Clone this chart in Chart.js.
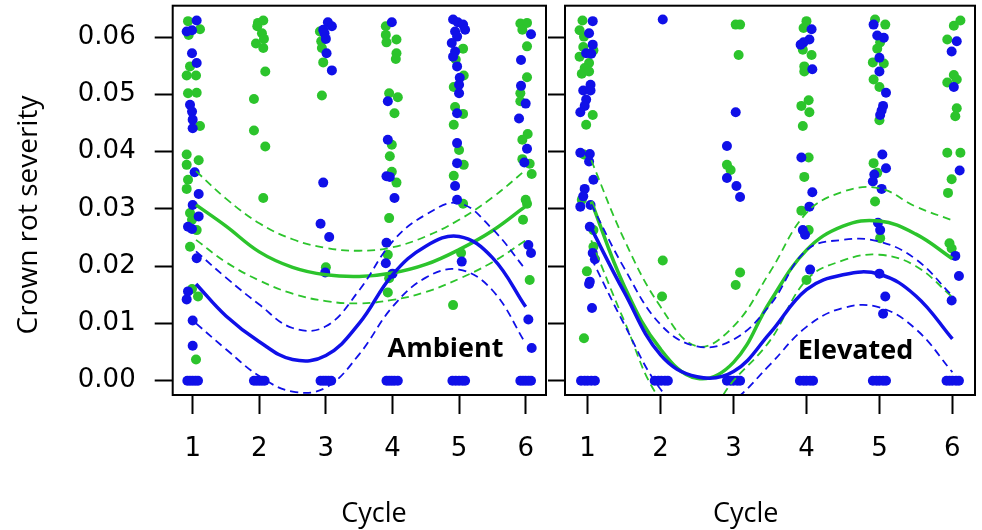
<!DOCTYPE html>
<html>
<head>
<meta charset="utf-8">
<script src="https://cdn.jsdelivr.net/npm/chart.js"></script>
<style>
  body { margin: 0; background: #fff; }
  canvas { position: absolute; top: 0; }
</style>
</head>
<body>
<canvas id="ambient" width="556" height="530" style="left:0px"></canvas>
<canvas id="elevated" width="434" height="530" style="left:548px"></canvas>
<script>
const xTicks = [1, 2, 3, 4, 5, 6];
const yTicks = [0, 0.01, 0.02, 0.03, 0.04, 0.05, 0.06];
const yTickLabels = ['0.00', '0.01', '0.02', '0.03', '0.04', '0.05', '0.06'];

const ambGreen = [
  [0.93,0.0628],[1.11,0.0614],[0.94,0.0604],[0.96,0.0549],[0.91,0.0533],[1.05,0.0533],[0.93,0.0502],
  [1.06,0.0503],[1.11,0.0445],[0.91,0.0395],[1.09,0.0385],[0.91,0.0377],[0.93,0.0351],[0.91,0.0335],
  [0.96,0.0293],[0.99,0.0281],[1.06,0.0263],[0.96,0.0234],[0.99,0.016],[1.08,0.0147],[1.05,0.0037],
  [1.98,0.0625],[2.06,0.0629],[1.97,0.0619],[2.04,0.0607],[2.07,0.0597],[1.95,0.0589],[2.06,0.0581],
  [2.09,0.054],[1.92,0.0492],[1.92,0.0437],[2.09,0.0409],[2.06,0.0319],
  [2.91,0.061],[2.93,0.0593],[2.94,0.0581],[2.96,0.0556],[2.94,0.0498],[3.0,0.0198],
  [3.9,0.0619],[3.9,0.0604],[3.91,0.0591],[4.06,0.0596],[4.06,0.0572],[4.05,0.0562],[3.95,0.0502],
  [4.08,0.0495],[4.03,0.0467],[3.99,0.0412],[3.96,0.0392],[3.99,0.0365],[4.06,0.0346],[3.95,0.0284],
  [3.93,0.022],[3.95,0.0179],[3.93,0.0154],
  [5.06,0.058],[4.95,0.0561],[5.07,0.0533],[4.92,0.0513],[4.94,0.0478],[5.06,0.0466],[4.92,0.0447],
  [5.0,0.0403],[5.07,0.0377],[4.92,0.0358],[5.06,0.0309],[5.03,0.0223],[4.91,0.0132],
  [5.92,0.0624],[6.02,0.0625],[5.95,0.0613],[6.02,0.0584],[6.02,0.053],[5.92,0.0502],[5.92,0.0488],
  [6.03,0.0431],[5.95,0.0421],[5.95,0.0387],[6.06,0.0379],[6.09,0.0361],[6.0,0.0316],[6.02,0.0309],
  [5.96,0.0281],[6.06,0.0176]
];
const ambBlue = [
  [1.06,0.0629],[0.99,0.0612],[0.91,0.061],[0.99,0.0572],[1.06,0.0555],[0.96,0.0482],[0.99,0.047],
  [1.0,0.0456],[1.0,0.0441],[1.03,0.0364],[1.09,0.0326],[1.0,0.0307],[1.09,0.0287],[0.93,0.0269],
  [0.99,0.0265],[1.06,0.0214],[0.93,0.0156],[0.91,0.0142],[1.0,0.0105],[1.0,0.0061],
  [3.03,0.0626],[3.09,0.0619],[2.96,0.0613],[2.98,0.0607],[3.0,0.0597],[3.01,0.0572],[3.09,0.0542],
  [2.96,0.0346],[2.92,0.0274],[3.05,0.0251],[2.99,0.0189],
  [3.99,0.0626],[3.93,0.0488],[3.93,0.0421],[3.91,0.0357],[3.96,0.0356],[4.03,0.0319],[3.91,0.0241],
  [3.9,0.0205],[4.0,0.0187],
  [4.91,0.0631],[4.98,0.0626],[5.06,0.0622],[5.09,0.0613],[4.94,0.061],[4.97,0.0601],[4.89,0.059],
  [4.94,0.0575],[4.91,0.0566],[4.97,0.0549],[5.01,0.0529],[5.0,0.0517],[5.0,0.0502],[4.97,0.0467],
  [4.97,0.0415],[4.97,0.038],[4.94,0.034],[4.97,0.0316],[5.04,0.0208],
  [6.08,0.0605],[5.93,0.056],[5.93,0.0515],[6.0,0.0484],[5.9,0.0458],[6.02,0.0405],[5.98,0.0381],
  [6.04,0.0237],[6.08,0.0223],[6.04,0.0107],[6.09,0.0057]
];
const ambZeroX = [0.92,0.96,1.0,1.04,1.08, 1.92,1.96,2.0,2.04,2.08, 2.92,2.96,3.0,3.04,3.08,
  3.91,3.95,3.99,4.03,4.08, 4.9,4.95,5.0,5.05,5.09, 5.92,5.96,6.0,6.04,6.08];

const elvGreen = [
  [0.93,0.0629],[0.89,0.0612],[0.95,0.0601],[0.94,0.0583],[1.08,0.0577],[0.89,0.0566],[1.02,0.0555],
  [0.96,0.0546],[0.92,0.0536],[1.02,0.054],[1.07,0.0464],[0.98,0.0447],[0.95,0.0395],[0.92,0.0316],
  [1.08,0.0263],[1.08,0.0234],[0.99,0.0191],[0.95,0.0074],
  [2.03,0.021],[2.02,0.0147],
  [3.03,0.0622],[3.09,0.0622],[3.07,0.0569],[2.91,0.0377],[2.96,0.0368],[3.09,0.0189],[3.03,0.0167],
  [4.0,0.0628],[3.96,0.0616],[3.95,0.0578],[4.07,0.0569],[3.97,0.0549],[3.97,0.054],[4.03,0.049],
  [3.93,0.048],[4.04,0.0469],[3.95,0.0445],[4.03,0.039],[3.97,0.0356],[3.93,0.0297],[4.03,0.0263],
  [4.0,0.0176],
  [4.94,0.0631],[5.08,0.0622],[5.01,0.0591],[4.97,0.058],[4.91,0.0556],[5.06,0.0554],[4.92,0.0526],
  [5.0,0.0513],[5.0,0.0455],[4.92,0.038],[4.97,0.0363],[4.94,0.0313],[5.01,0.0249],
  [6.11,0.0629],[6.02,0.062],[5.93,0.0596],[6.02,0.0534],[5.93,0.0521],[6.06,0.0526],[6.06,0.0476],
  [6.04,0.0462],[5.93,0.0398],[6.11,0.0398],[5.99,0.0352],[5.94,0.0328],[5.96,0.024],[5.99,0.0231]
];
const elvBlue = [
  [1.07,0.0628],[1.02,0.0607],[1.07,0.0587],[0.98,0.0572],[1.05,0.0571],[1.04,0.0517],[0.94,0.0507],
  [1.04,0.0507],[0.98,0.0491],[0.96,0.048],[0.9,0.0469],[0.9,0.0398],[1.03,0.0396],[1.02,0.0383],
  [1.08,0.0351],[0.96,0.0335],[0.94,0.0322],[0.9,0.0304],[1.04,0.0307],[1.03,0.0269],[1.07,0.0223],
  [1.1,0.0212],[1.03,0.0173],[1.02,0.0169],[1.06,0.0127],
  [2.03,0.0631],
  [3.03,0.0469],[2.91,0.041],[2.91,0.0354],[3.04,0.034],[3.09,0.0321],
  [4.07,0.0614],[4.04,0.0596],[3.96,0.0591],[3.92,0.0587],[4.08,0.0544],[3.93,0.039],[4.08,0.0329],
  [4.04,0.0304],[3.95,0.0263],[3.98,0.0255],[4.05,0.0194],
  [4.92,0.0622],[4.97,0.0603],[5.06,0.0599],[5.0,0.0564],[5.0,0.054],[5.09,0.0503],[5.05,0.048],
  [5.03,0.0472],[5.01,0.0464],[5.04,0.0395],[5.09,0.0371],[4.93,0.036],[4.91,0.0348],[5.03,0.0335],
  [4.98,0.0276],[5.01,0.0263],[5.0,0.0187],[5.08,0.0147],[5.05,0.0117],
  [6.06,0.0593],[5.99,0.0575],[6.02,0.0513],[6.1,0.0367],[6.04,0.0218],[6.09,0.0183],[5.99,0.014]
];
const elvZeroX = [0.91,0.96,1.0,1.05,1.1, 1.92,1.97,2.01,2.06,2.1, 2.91,2.96,3.0,3.05,3.09,
  3.91,3.96,4.0,4.05,4.09, 4.91,4.96,5.0,5.05,5.09, 5.92,5.96,6.0,6.05,6.09];

// fitted curves with confidence bands, read at these cycles
const curveX = [1.05, 1.5, 2, 2.5, 3, 3.5, 4, 4.5, 5, 5.5, 6];
const ambGreenFit   = [0.0307, 0.0270, 0.0225, 0.0198, 0.0185, 0.0182, 0.0188, 0.0203, 0.0229, 0.0262, 0.0305];
const ambGreenUpper = [0.0366, 0.0318, 0.0275, 0.0247, 0.0232, 0.0227, 0.0233, 0.0252, 0.0281, 0.0320, 0.0368];
const ambGreenLower = [0.0246, 0.0207, 0.0175, 0.0152, 0.0139, 0.0135, 0.0141, 0.0155, 0.0178, 0.0207, 0.0245];
const ambBlueFit    = [0.0169, 0.0113, 0.0068, 0.0037, 0.0044, 0.0100, 0.0185, 0.0235, 0.0252, 0.0215, 0.0129];
const ambBlueUpper  = [0.0226, 0.0180, 0.0133, 0.0092, 0.0095, 0.0158, 0.0243, 0.0290, 0.0310, 0.0265, 0.0194];
const ambBlueLower  = [0.0100, 0.0055, 0.0008, -0.0019, -0.0012, 0.0046, 0.0129, 0.0180, 0.0194, 0.0158, 0.0065];
const elvGreenFit   = [0.0313, 0.0166, 0.0055, 0.0004, 0.0032, 0.0138, 0.0228, 0.0270, 0.0279, 0.0256, 0.0213];
const elvGreenUpper = [0.0385, 0.0247, 0.0129, 0.0060, 0.0095, 0.0190, 0.0293, 0.0330, 0.0336, 0.0304, 0.0280];
const elvGreenLower = [0.0245, 0.0105, -0.0034, -0.0075, 0.0000, 0.0070, 0.0176, 0.0210, 0.0220, 0.0200, 0.0146];
const elvBlueFit    = [0.0266, 0.0155, 0.0045, 0.0007, 0.0016, 0.0083, 0.0159, 0.0185, 0.0186, 0.0148, 0.0073];
const elvBlueUpper  = [0.0308, 0.0197, 0.0098, 0.0060, 0.0072, 0.0132, 0.0228, 0.0246, 0.0243, 0.0212, 0.0148];
const elvBlueLower  = [0.0214, 0.0099, -0.0015, -0.0070, -0.0035, 0.0028, 0.0094, 0.0127, 0.0128, 0.0090, 0.0015];

const GREEN = '#2cc42c';
const BLUE = '#1010e8';

// frame + texts drawn on top of each panel
const panelText = {
  id: 'panelText',
  afterDraw(chart, args, opts) {
    const ctx = chart.ctx;
    const a = chart.chartArea;
    ctx.save();
    ctx.strokeStyle = '#000';
    ctx.lineWidth = 2;
    ctx.strokeRect(a.left, a.top, a.right - a.left, a.bottom - a.top);
    ctx.fillStyle = '#000';
    ctx.textAlign = 'center';
    ctx.textBaseline = 'alphabetic';
    ctx.font = 'bold 27px "Open Sans"';
    ctx.fillText(opts.label, opts.labelX, opts.labelY);
    ctx.font = '27px "Open Sans"';
    ctx.fillText('Cycle', opts.cycleX, 522);
    if (opts.yTitle) {
      ctx.translate(37, 215);
      ctx.rotate(-Math.PI / 2);
      ctx.font = '28px "Open Sans"';
      ctx.fillText(opts.yTitle, 0, 0);
    }
    ctx.restore();
  }
};

function pts(list) {
  return list.map(p => ({ x: p[0], y: p[1] }));
}
function zeros(xs) {
  return xs.map(x => ({ x: x, y: 0 }));
}
function curve(ys) {
  return curveX.map((x, i) => ({ x: x, y: ys[i] }));
}
function line(ys, color, width, dash) {
  return {
    data: curve(ys), showLine: true, borderColor: color, borderWidth: width,
    borderDash: dash, pointRadius: 0, tension: 0.4, fill: false
  };
}
function dots(data, color) {
  return { data: data, backgroundColor: color, borderWidth: 0, pointRadius: 5, pointHoverRadius: 5 };
}

function makePanel(id, p) {
  new Chart(document.getElementById(id), {
    type: 'scatter',
    data: {
      // first dataset ends up on top
      datasets: [
        line(p.blueFit, BLUE, 3.5, []),
        line(p.blueUpper, BLUE, 1.8, [8, 5]),
        line(p.blueLower, BLUE, 1.8, [8, 5]),
        line(p.greenFit, GREEN, 3.5, []),
        line(p.greenUpper, GREEN, 1.8, [8, 5]),
        line(p.greenLower, GREEN, 1.8, [8, 5]),
        dots(zeros(p.zeroX), BLUE),
        dots(pts(p.blue), BLUE),
        dots(pts(p.green), GREEN)
      ]
    },
    options: {
      responsive: false,
      animation: false,
      devicePixelRatio: 1,
      layout: { padding: { left: 0, top: 5.7, right: p.padRight, bottom: 0 } },
      elements: { line: { capBezierPoints: false } },
      plugins: {
        legend: { display: false },
        tooltip: { enabled: false },
        panelText: p.text
      },
      scales: {
        x: {
          type: 'linear',
          min: p.xMin,
          max: p.xMax,
          afterBuildTicks: s => { s.ticks = xTicks.map(v => ({ value: v })); },
          afterFit: s => { s.height = 135; s.paddingLeft = 0; s.paddingRight = 0; },
          border: { display: false },
          grid: { drawOnChartArea: false, drawTicks: true, tickLength: 19, tickWidth: 2, tickColor: '#000' },
          ticks: {
            color: '#000', padding: 20, maxRotation: 0,
            font: { family: 'DejaVu Sans', size: 26 },
            callback: v => String(v)
          }
        },
        y: {
          type: 'linear',
          min: -0.0025,
          max: 0.0655,
          afterBuildTicks: s => { s.ticks = yTicks.map(v => ({ value: v })); },
          afterFit: s => {
            s.width = p.yWidth;
            s.paddingTop = 0; s.paddingBottom = 0; s.paddingLeft = 0; s.paddingRight = 0;
          },
          border: { display: false },
          grid: { drawOnChartArea: false, drawTicks: true, tickLength: p.yTick, tickWidth: 2, tickColor: '#000' },
          ticks: {
            display: p.showY, color: '#000', padding: 19,
            font: { family: 'DejaVu Sans', size: 26 },
            callback: (v, i) => yTickLabels[i]
          }
        }
      }
    },
    plugins: [panelText]
  });
}

makePanel('ambient', {
  green: ambGreen, blue: ambBlue, zeroX: ambZeroX,
  greenFit: ambGreenFit, greenUpper: ambGreenUpper, greenLower: ambGreenLower,
  blueFit: ambBlueFit, blueUpper: ambBlueUpper, blueLower: ambBlueLower,
  xMin: 0.70, xMax: 6.305, yWidth: 172.7, yTick: 18, showY: true, padRight: 10,
  text: { label: 'Ambient', labelX: 445.5, labelY: 356.5, cycleX: 374, yTitle: 'Crown rot severity' }
});

makePanel('elevated', {
  green: elvGreen, blue: elvBlue, zeroX: elvZeroX,
  greenFit: elvGreenFit, greenUpper: elvGreenUpper, greenLower: elvGreenLower,
  blueFit: elvBlueFit, blueUpper: elvBlueUpper, blueLower: elvBlueLower,
  xMin: 0.69, xMax: 6.31, yWidth: 17, yTick: 17, showY: false, padRight: 7,
  text: { label: 'Elevated', labelX: 307.5, labelY: 359, cycleX: 197.7, yTitle: '' }
});
</script>
</body>
</html>
